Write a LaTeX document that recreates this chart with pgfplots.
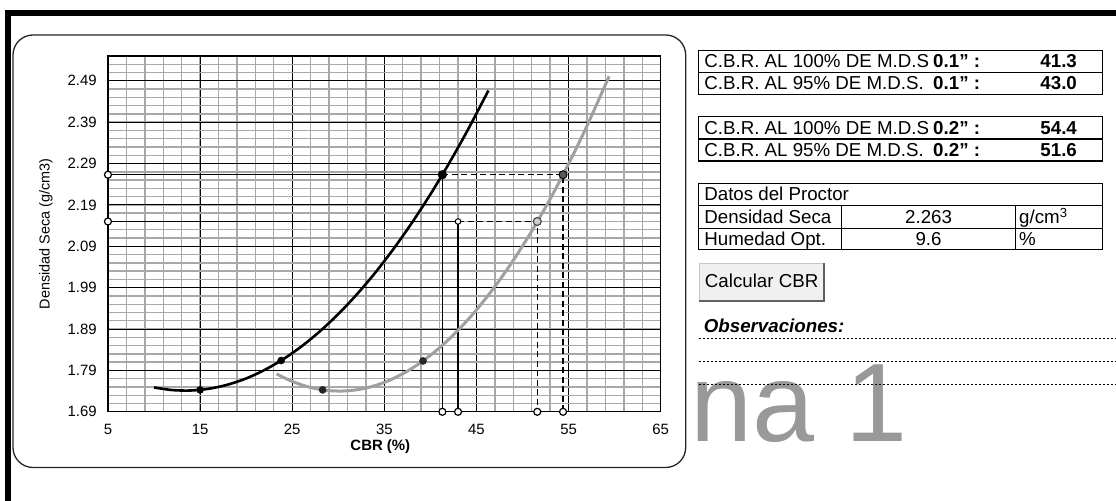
\documentclass[border=0pt]{standalone}
\usepackage{pgfplots}
\pgfplotsset{compat=1.18}
\usepackage{fontspec}
\setmainfont{Liberation Sans}
\definecolor{gridgray}{HTML}{A8A8A8}
\definecolor{curvegray}{HTML}{A0A0A0}
\definecolor{wmgray}{HTML}{999999}
\definecolor{btnface}{HTML}{F0F0F0}
\newcommand{\fs}[1]{\fontsize{#1}{#1}\selectfont}

\begin{document}
\begin{tikzpicture}
\begin{scope}[x=1bp,y=1bp]
\path[use as bounding box] (0,0) rectangle (1116,501);
% sheet frame
\draw[line width=6bp, miter limit=10] (8,0) -- (8,488) -- (1116,488);
% chart area
\draw[line width=1.3bp, black!85, rounded corners=20bp] (13,33.3) rectangle (686,466);
\end{scope}

\begin{axis}[
  at={(108bp,89bp)}, anchor=south west,
  scale only axis, width=553bp, height=356bp,
  xmin=5, xmax=65, ymin=1.69, ymax=2.55,
  xtick={5,15,...,65},
  ytick={1.69,1.79,1.89,1.99,2.09,2.19,2.29,2.39,2.49},
  minor xtick={7,9,...,63},
  minor ytick={1.71,1.73,...,2.54},
  grid=both,
  major grid style={black, line width=1bp},
  minor grid style={gridgray, line width=1.4bp},
  major tick length=0pt, minor tick length=0pt,
  axis line style={black, line width=1.2bp},
  tick label style={font=\fs{15}},
  /pgf/number format/assume math mode=true,
  xticklabel style={anchor=center, yshift=-18bp, inner sep=0pt},
  yticklabel style={anchor=east, xshift=-11bp, inner sep=0pt,
    /pgf/number format/.cd, fixed, fixed zerofill, precision=2},
  xlabel={\bfseries CBR (\%)},
  ylabel={Densidad Seca (g/cm3)},
  every axis x label/.style={at={(axis description cs:0.4928,-0.0975)}, anchor=center, font=\fs{15}},
  every axis y label/.style={at={(axis description cs:-0.1121,0.5)}, anchor=center, rotate=90, font=\fs{14.5}},
  clip=false,
]
% reading lines at 100% and 95% of the maximum dry density
\addplot[black, line width=1.5bp] coordinates {(5,2.263) (41.3,2.263) (41.3,1.69)};
\addplot[black, line width=1.5bp] coordinates {(5,2.150) (43.0,2.150) (43.0,1.69)};
\addplot[black, line width=1.5bp, dash pattern=on 6bp off 3.5bp] coordinates {(41.3,2.263) (54.4,2.263) (54.4,1.69)};
\addplot[black, line width=1.5bp, dash pattern=on 6bp off 3.5bp] coordinates {(43.0,2.150) (51.6,2.150) (51.6,1.69)};

% density vs CBR at 0.1"
\addplot[black, line width=2.6bp, smooth] coordinates {
 (10,1.7488) (12,1.7425) (14,1.7415) (16,1.7459) (18,1.7556) (20,1.7706)
 (22,1.7911) (24,1.8168) (26,1.8479) (28,1.8844) (30,1.9262) (32,1.9734)
 (34,2.0259) (36,2.0838) (38,2.1470) (40,2.2156) (42,2.2895) (44,2.3688)
 (46.3,2.4665)};
% density vs CBR at 0.2"
\addplot[curvegray, line width=3bp, smooth] coordinates {
 (23.3,1.7815) (25,1.7634) (27,1.7487) (29,1.7412) (31,1.7407) (33,1.7473)
 (35,1.7610) (37,1.7819) (39,1.8098) (41,1.8449) (43,1.8870) (45,1.9363)
 (47,1.9927) (49,2.0561) (51,2.1267) (53,2.2044) (55,2.2892) (57,2.3811)
 (59.4,2.5008)};

% test points
\addplot[only marks, mark=*, mark size=3.6bp, black] coordinates {(15,1.743) (23.8,1.814)};
\addplot[only marks, mark=*, mark size=3.6bp, black!85] coordinates {(28.3,1.743) (39.2,1.813)};
\addplot[only marks, mark=*, mark size=4.4bp, black] coordinates {(41.3,2.263)};
\addplot[only marks, mark=*, mark size=4bp, mark options={fill=gray!70!black, draw=black, line width=1bp}] coordinates {(54.4,2.263)};
\addplot[only marks, mark=*, mark size=4bp, mark options={fill=gray!40, draw=gray!60!black, line width=1.2bp}] coordinates {(51.6,2.150)};
\addplot[only marks, mark=*, mark size=3.5bp, mark options={fill=white, draw=black, line width=1.2bp}] coordinates {
 (5,2.263) (5,2.150) (41.3,1.69) (43.0,1.69) (51.6,1.69) (54.4,1.69)};
\addplot[only marks, mark=*, mark size=2.8bp, mark options={fill=white, draw=black, line width=1bp}] coordinates {(43.0,2.150)};
\end{axis}

\begin{scope}[x=1bp,y=1bp]
% result tables
\begin{scope}[line width=1.3bp, every node/.style={inner sep=0pt, font=\fs{18.8}}]
\draw (699,406.7) rectangle (1103,450.3); \draw (699,428.7) -- (1103,428.7);
\node[anchor=base west] at (704,433) {C.B.R. AL 100\% DE M.D.S};
\node[anchor=base west] at (704,411) {C.B.R. AL 95\% DE M.D.S.};
\node[anchor=base west] at (933,433) {\bfseries 0.1" :};
\node[anchor=base west] at (933,411) {\bfseries 0.1" :};
\node[anchor=base east] at (1078,433) {\bfseries 41.3};
\node[anchor=base east] at (1078,411) {\bfseries 43.0};

\draw (699,340) rectangle (1103,384.3); \draw (699,362) -- (1103,362);
\node[anchor=base west] at (704,366.5) {C.B.R. AL 100\% DE M.D.S};
\node[anchor=base west] at (704,344.4) {C.B.R. AL 95\% DE M.D.S.};
\node[anchor=base west] at (933,366.5) {\bfseries 0.2" :};
\node[anchor=base west] at (933,344.4) {\bfseries 0.2" :};
\node[anchor=base east] at (1078,366.5) {\bfseries 54.4};
\node[anchor=base east] at (1078,344.4) {\bfseries 51.6};

\draw (699,251.7) rectangle (1103,317.7);
\draw (699,295.3) -- (1103,295.3); \draw (699,272.7) -- (1103,272.7);
\draw (842,251.7) -- (842,295.3); \draw (1016,251.7) -- (1016,295.3);
\node[anchor=base west] at (704,300) {Datos del Proctor};
\node[anchor=base west] at (704,277.4) {Densidad Seca};
\node[anchor=base west] at (704,255.6) {Humedad Opt.};
\node[anchor=base] at (929,277.4) {2.263};
\node[anchor=base] at (929,255.6) {9.6};
\node[anchor=base west] at (1019,277.4) {g/cm\textsuperscript{3}};
\node[anchor=base west] at (1019,255.6) {\%};
\end{scope}

% button
\fill[btnface] (699,199.3) rectangle (825,238.3);
\draw[gray!45, line width=1bp] (699.5,199.3) -- (699.5,237.8) -- (825,237.8);
\draw[gray!75!black, line width=2bp] (699,200.3) -- (824,200.3) -- (824,238.3);
\node[inner sep=0pt, anchor=base, font=\fs{18.8}] at (762,213) {Calcular CBR};

% watermark
\node[inner sep=0pt, anchor=base west, text=wmgray, font=\fs{112}] at (691,59.3) {na 1};

% notes
\node[inner sep=0pt, anchor=base west, font=\fs{18.8}\bfseries\itshape] at (704,168) {Observaciones:};
\foreach \yy in {162.7,139.3,116}
  \draw[line width=1bp, dash pattern=on 2bp off 2bp] (699,\yy) -- (1116,\yy);
\end{scope}
\end{tikzpicture}
\end{document}
